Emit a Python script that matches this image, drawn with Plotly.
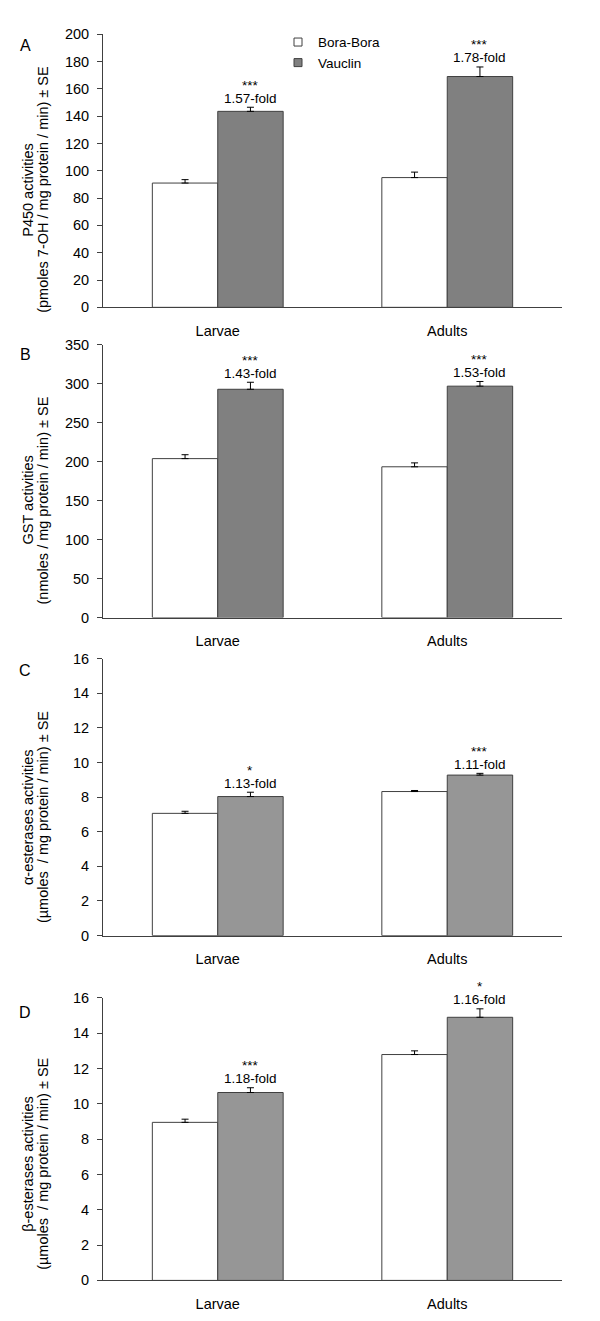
import plotly.graph_objects as go

# ---------------- data ----------------
categories = ["Larvae", "Adults"]
series_names = ["Bora-Bora", "Vauclin"]

p450_bora = [91.0, 95.0]
p450_bora_se = [2.5, 4.0]
p450_vauclin = [143.5, 169.0]
p450_vauclin_se = [3.0, 7.0]
p450_fold = ["1.57-fold", "1.78-fold"]
p450_sig = ["***", "***"]

gst_bora = [204.0, 193.5]
gst_bora_se = [5.0, 5.0]
gst_vauclin = [293.0, 297.0]
gst_vauclin_se = [9.0, 6.0]
gst_fold = ["1.43-fold", "1.53-fold"]
gst_sig = ["***", "***"]

alpha_bora = [7.06, 8.32]
alpha_bora_se = [0.12, 0.06]
alpha_vauclin = [8.03, 9.27]
alpha_vauclin_se = [0.25, 0.10]
alpha_fold = ["1.13-fold", "1.11-fold"]
alpha_sig = ["*", "***"]

beta_bora = [8.95, 12.79]
beta_bora_se = [0.18, 0.21]
beta_vauclin = [10.64, 14.90]
beta_vauclin_se = [0.27, 0.48]
beta_fold = ["1.18-fold", "1.16-fold"]
beta_sig = ["***", "*"]

y_ranges = [[0, 200], [0, 350], [0, 16], [0, 16]]
y_dticks = [20, 50, 2, 2]
panel_letters = ["A", "B", "C", "D"]
title_line1 = ["P450 activities", "GST activities",
               "α-esterases activities", "β-esterases activities"]
title_line2 = ["(pmoles 7-OH / mg protein / min) ± SE",
               "(nmoles / mg protein / min) ± SE",
               "(µmoles  / mg protein / min) ± SE",
               "(µmoles  / mg protein / min) ± SE"]

# ---------------- layout helpers ----------------
W, H = 600, 1321
FONT = "Liberation Sans, Arial, sans-serif"
BARGAP = 0.43


def px_x(p):
    """screen x pixel -> paper x"""
    return p / W


def px_y(p):
    """screen y pixel -> paper y"""
    return 1 - p / H


# screen pixel positions (top, bottom) of each panel's plot area
panel_px = [(26.5, 303), (341, 617), (658.5, 939), (1002, 1288)]
title_center_px = [184, 498.5, 819, 1170]
letter_center_px = [38, 351, 671, 1017]
vauclin_colors = ["#808080", "#808080", "#969696", "#969696"]

panels = [
    (p450_bora, p450_bora_se, p450_vauclin, p450_vauclin_se, p450_fold, p450_sig),
    (gst_bora, gst_bora_se, gst_vauclin, gst_vauclin_se, gst_fold, gst_sig),
    (alpha_bora, alpha_bora_se, alpha_vauclin, alpha_vauclin_se, alpha_fold, alpha_sig),
    (beta_bora, beta_bora_se, beta_vauclin, beta_vauclin_se, beta_fold, beta_sig),
]

fig = go.Figure()
annotations = []
layout_axes = {}

for i, (bb, bb_se, va, va_se, fold, sig) in enumerate(panels):
    k = "" if i == 0 else str(i + 1)
    xa, ya = "x" + k, "y" + k
    err_style = dict(type="data", symmetric=False, color="black",
                     thickness=1, width=3.5)
    fig.add_trace(go.Bar(
        x=categories, y=bb, name=series_names[0], xaxis=xa, yaxis=ya,
        marker=dict(color="white", line=dict(color="#404040", width=1)),
        error_y=dict(array=bb_se, arrayminus=[0] * len(bb), **err_style),
        showlegend=False, offsetgroup="bb",
    ))
    fig.add_trace(go.Bar(
        x=categories, y=va, name=series_names[1], xaxis=xa, yaxis=ya,
        marker=dict(color=vauclin_colors[i], line=dict(color="#404040", width=1)),
        error_y=dict(array=va_se, arrayminus=[0] * len(va), **err_style),
        showlegend=False, offsetgroup="va",
    ))

    top, bot = panel_px[i]
    layout_axes["xaxis" + k] = dict(
        domain=[px_x(103), px_x(562)], anchor=ya, type="category",
        categoryorder="array", categoryarray=categories,
        showline=True, linecolor="#404040", linewidth=1,
        ticks="outside", ticklen=10, tickcolor="rgba(0,0,0,0)",
        showgrid=False, zeroline=False, fixedrange=True,
        tickfont=dict(family=FONT, size=14.5, color="black"),
    )
    layout_axes["yaxis" + k] = dict(
        domain=[px_y(bot), px_y(top)], anchor=xa,
        range=y_ranges[i], dtick=y_dticks[i], tick0=0,
        showline=True, linecolor="#404040", linewidth=1,
        ticks="outside", ticklen=5, tickcolor="#404040",
        ticklabelstandoff=5,
        showgrid=False, zeroline=False, fixedrange=True,
        tickfont=dict(family=FONT, size=14.5, color="black"),
    )

    # significance + fold annotations above the Vauclin bars
    offset = (1 - BARGAP) / 4
    for j in range(len(categories)):
        ytop = va[j] + va_se[j]
        annotations.append(dict(
            x=j + offset, y=ytop, xref=xa, yref=ya, text=fold[j],
            showarrow=False, yanchor="middle", yshift=9,
            font=dict(family=FONT, size=13.5, color="black"),
        ))
        annotations.append(dict(
            x=j + offset, y=ytop, xref=xa, yref=ya, text=sig[j],
            showarrow=False, yanchor="middle", yshift=22,
            font=dict(family=FONT, size=13.5, color="black"),
        ))

    # y-axis title (two lines)
    for line_text, xc in ((title_line1[i], 28), (title_line2[i], 43)):
        annotations.append(dict(
            x=px_x(xc), y=px_y(title_center_px[i]), xref="paper", yref="paper",
            text=line_text, textangle=-90, showarrow=False,
            xanchor="center", yanchor="middle",
            font=dict(family=FONT, size=14.5, color="black"),
        ))
    # panel letter
    annotations.append(dict(
        x=px_x(25), y=px_y(letter_center_px[i]), xref="paper", yref="paper",
        text=panel_letters[i], showarrow=False, xanchor="center", yanchor="middle",
        font=dict(family=FONT, size=16, color="black"),
    ))

# legend entries (panel A)
fig.add_trace(go.Scatter(
    x=[None], y=[None], mode="markers", name=series_names[0],
    marker=dict(symbol="square", size=8, color="white",
                line=dict(color="#404040", width=1)),
    xaxis="x", yaxis="y", showlegend=True, hoverinfo="skip",
))
fig.add_trace(go.Scatter(
    x=[None], y=[None], mode="markers", name=series_names[1],
    marker=dict(symbol="square", size=8, color=vauclin_colors[0],
                line=dict(color="#404040", width=1)),
    xaxis="x", yaxis="y", showlegend=True, hoverinfo="skip",
))

fig.update_layout(
    width=W, height=H,
    margin=dict(l=0, r=0, t=0, b=0),
    paper_bgcolor="white", plot_bgcolor="white",
    barmode="group", bargap=BARGAP, bargroupgap=0,
    showlegend=True,
    legend=dict(x=px_x(278), y=px_y(19), xanchor="left", yanchor="top",
                bgcolor="rgba(0,0,0,0)", borderwidth=0,
                font=dict(family=FONT, size=13.5, color="black"),
                tracegroupgap=0, itemwidth=30),
    annotations=annotations,
    font=dict(family=FONT, size=14.5, color="black"),
    hovermode=False,
    **layout_axes,
)

fig.write_html(
    "out.html",
    config={"displayModeBar": False, "staticPlot": True},
    post_script="document.body.style.margin='0px';"
                "document.body.style.overflow='hidden';",
)
